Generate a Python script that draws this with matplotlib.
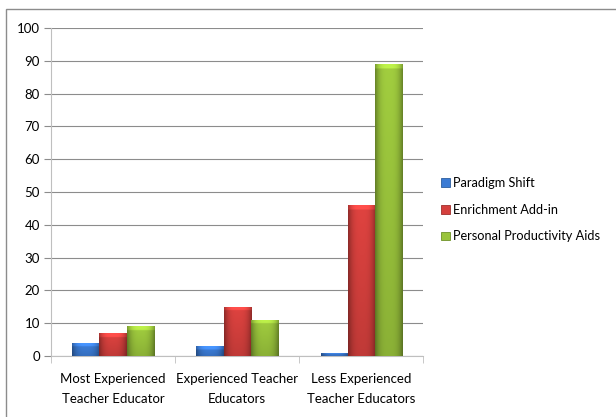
import numpy as np
import matplotlib.pyplot as plt
from matplotlib.colors import to_rgb
from matplotlib.patches import Rectangle, Patch

plt.rcParams['font.family'] = ['Lato', 'DejaVu Sans']

categories = ['Most Experienced\nTeacher Educator', 'Experienced Teacher\nEducators',
              'Less Experienced\nTeacher Educators']
series = ['Paradigm Shift', 'Enrichment Add-in', 'Personal Productivity Aids']
paradigm = [4, 3, 1]
enrichment = [7, 15, 46]
productivity = [9, 11, 89]
colors = ['#3B7BD4', '#D5403D', '#9AC43C']
edges = ['#2C5E9E', '#9E2F2C', '#6E9228']


def shade_bar(ax, bar, color):
    # bevel look: darker sides, lighter top strip
    x0, y0 = bar.get_x(), bar.get_y()
    bw, bh = bar.get_width(), bar.get_height()
    if bh <= 0:
        return
    nx, ny = 40, 200
    u = np.linspace(0, 1, nx)
    v = np.linspace(0, 1, ny)  # 0 bottom, 1 top
    side = 1.0 - 0.35 * np.abs(2 * u - 1) ** 3
    bevel = min(1.2, bh * 0.35) / bh
    top = np.where(v > 1 - bevel, 1.18, 1.0)
    vert = 1.05 - 0.15 * (1 - v)
    f = np.outer(top * vert, side)
    base = np.array(to_rgb(color))
    img = np.clip(f[..., None] * base[None, None, :], 0, 1)
    im = ax.imshow(img, extent=(x0, x0 + bw, y0, y0 + bh), origin='lower',
                   aspect='auto', interpolation='bilinear', zorder=3)
    im.set_clip_path(bar)


fig = plt.figure(figsize=(6.16, 4.17), dpi=100)
ax = fig.add_axes([0.0828, 0.1463, 0.604, 0.7866])

x = np.arange(len(categories))
w = 0.218
for i, (vals, c, e) in enumerate(zip([paradigm, enrichment, productivity], colors, edges)):
    bars = ax.bar(x + (i - 1) * w, vals, w, color=c, edgecolor=e, linewidth=0.5, zorder=3)
    for b in bars:
        shade_bar(ax, b, c)

ax.set_xlim(-0.5, 2.5)
ax.set_ylim(0, 100)
ax.set_yticks(range(0, 101, 10))
ax.yaxis.grid(True, color='#8c8c8c', linewidth=0.8, zorder=0)
ax.set_xticks(x)
ax.set_xticklabels(categories, fontsize=9.5, linespacing=1.85)
ax.set_xticks([-0.5, 0.5, 1.5, 2.5], minor=True)
ax.tick_params(axis='x', which='major', length=0, pad=12)
ax.tick_params(axis='x', which='minor', length=5, color='#bfbfbf')
ax.tick_params(axis='y', length=5, color='#8c8c8c', labelsize=9.5, pad=3)
for s in ['top', 'right']:
    ax.spines[s].set_visible(False)
ax.spines['left'].set_color('#bfbfbf')
ax.spines['bottom'].set_color('#bfbfbf')

handles = [Patch(facecolor=c, edgecolor=e, linewidth=0.6) for c, e in zip(colors, edges)]
fig.legend(handles, series, loc='center left', bbox_to_anchor=(0.697, 0.497),
           frameon=False, fontsize=9.2, handlelength=0.7, handleheight=0.7,
           handletextpad=0.25, labelspacing=1.15)

fig.patches.append(Rectangle((6 / 616, -0.01), 1.0, 1 - 9 / 417 + 0.01, transform=fig.transFigure,
                             fill=False, edgecolor='#8c8c8c', linewidth=1.0))

fig.savefig('out.png', dpi=100)
